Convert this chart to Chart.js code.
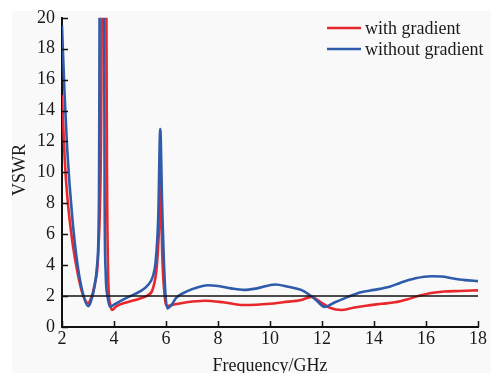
<!DOCTYPE html>
<html><head><meta charset="utf-8">
<script src="https://cdn.jsdelivr.net/npm/chart.js@4"></script>
<style>html,body{margin:0;padding:0;background:#fff;}#wrap{position:relative;width:491px;height:373px;}</style>
</head><body><div id="wrap"><canvas id="c" width="491" height="373"></canvas></div>
<script>
const withFreq = [2.0,2.1,2.2,2.4,2.6,2.8,3.0,3.1,3.25,3.4,3.5,3.57,3.68,3.73,3.78,3.85,3.92,4.1,4.5,5.0,5.3,5.5,5.65,5.75,5.8,5.85,5.95,6.05,6.3,6.8,7.5,8.2,9.0,10.0,10.5,11.2,11.6,11.9,12.3,12.75,13.2,13.7,14.3,14.8,15.3,15.7,16.2,16.7,17.3,18.0];
const withVSWR = [15,11,8.5,5.5,3.5,2.1,1.55,1.8,2.7,5,12,30,30,10,3,1.5,1.1,1.35,1.6,1.85,2.05,2.5,4,7,9.5,5,2,1.35,1.45,1.6,1.7,1.6,1.42,1.5,1.6,1.75,1.95,1.65,1.25,1.1,1.25,1.38,1.5,1.6,1.8,2.0,2.2,2.3,2.33,2.37];
const withoutFreq = [2.0,2.1,2.2,2.4,2.6,2.8,3.0,3.1,3.25,3.35,3.42,3.47,3.6,3.64,3.68,3.75,3.85,4.0,4.5,5.0,5.3,5.5,5.6,5.7,5.78,5.85,5.95,6.05,6.2,6.4,6.8,7.2,7.6,8.0,8.5,9.0,9.5,10.2,10.7,11.2,11.5,11.8,12.1,12.5,13.0,13.5,14.0,14.6,15.0,15.6,16.2,16.6,17.0,17.5,18.0];
const withoutVSWR = [19.5,15,11.5,7,4,2.2,1.35,1.6,2.6,4,8,30,30,8,3.5,2,1.3,1.45,1.9,2.3,2.7,3.3,4.2,7,12.8,8,3,1.2,1.4,1.9,2.3,2.55,2.7,2.65,2.5,2.4,2.5,2.75,2.6,2.4,2.1,1.7,1.3,1.6,1.95,2.25,2.4,2.6,2.85,3.15,3.28,3.27,3.15,3.03,2.97];
const refFreq = [2,18];
const refVSWR = [2,2];
const xTicks = [2,4,6,8,10,12,14,16,18];
const yTicks = [0,2,4,6,8,10,12,14,16,18,20];
const seriesNames = ['with gradient','without gradient'];
const seriesColors = ['#e8282d','#2f5caa'];
const xTitle = 'Frequency/GHz';
const yTitle = 'VSWR';

const FONT = '"Liberation Serif", "Times New Roman", serif';
const TEXT = '#1a1a1a';
const toPts = (xs, ys) => xs.map((x,i)=>({x:x,y:ys[i]}));

const bgPlugin = {
  id:'bg',
  beforeDraw(chart){
    const ctx = chart.ctx;
    ctx.save();
    ctx.fillStyle = '#ffffff';
    ctx.fillRect(0,0,chart.width,chart.height);
    ctx.fillStyle = '#f9f9f9';
    ctx.fillRect(12,11,chart.width-12,chart.height-11);
    ctx.restore();
  }
};
const decoPlugin = {
  id:'deco',
  afterDraw(chart){
    const ctx = chart.ctx, xs = chart.scales.x, ys = chart.scales.y, a = chart.chartArea;
    ctx.save();
    ctx.strokeStyle = '#111';
    ctx.lineWidth = 1.5;
    ctx.beginPath();
    xTicks.forEach(v=>{ const p = Math.round(xs.getPixelForValue(v))+0.5; ctx.moveTo(p,a.bottom); ctx.lineTo(p,a.bottom-6); });
    yTicks.forEach(v=>{ const p = Math.round(ys.getPixelForValue(v))+0.5; ctx.moveTo(a.left,p); ctx.lineTo(a.left+6,p); });
    ctx.stroke();
    ctx.font = '18px ' + FONT;
    ctx.fillStyle = TEXT;
    // axis titles
    ctx.textAlign = 'center';
    ctx.textBaseline = 'alphabetic';
    ctx.fillText(xTitle, (a.left+a.right)/2, 371);
    ctx.save();
    ctx.translate(25, 170);
    ctx.rotate(-Math.PI/2);
    ctx.fillText(yTitle, 0, 0);
    ctx.restore();
    // legend
    ctx.textBaseline = 'middle';
    ctx.textAlign = 'left';
    const lx = 327, ly = [28, 49];
    seriesNames.forEach((n,i)=>{
      ctx.strokeStyle = seriesColors[i];
      ctx.lineWidth = 2.5;
      ctx.beginPath(); ctx.moveTo(lx, ly[i]); ctx.lineTo(lx+34, ly[i]); ctx.stroke();
      ctx.fillStyle = TEXT;
      ctx.fillText(n, lx+38, ly[i]+1);
    });
    ctx.restore();
  }
};

new Chart(document.getElementById('c'), {
  type:'line',
  data:{ datasets:[
    {label:'ref', data:toPts(refFreq,refVSWR), borderColor:'#111', borderWidth:1.5, pointRadius:0, tension:0},
    {label:seriesNames[1], data:toPts(withoutFreq,withoutVSWR), borderColor:seriesColors[1], borderWidth:2.6, pointRadius:0, cubicInterpolationMode:'monotone'},
    {label:seriesNames[0], data:toPts(withFreq,withVSWR), borderColor:seriesColors[0], borderWidth:2.6, pointRadius:0, cubicInterpolationMode:'monotone'}
  ]},
  plugins:[bgPlugin, decoPlugin],
  options:{
    responsive:false, animation:false, devicePixelRatio:1,
    layout:{padding:{top:17,right:13,left:0,bottom:0}},
    plugins:{legend:{display:false}, tooltip:{enabled:false}},
    scales:{
      x:{type:'linear', min:2, max:18,
        afterBuildTicks(s){ s.ticks = xTicks.map(v=>({value:v})); },
        afterFit(s){ s.height = 46; },
        grid:{display:false, drawTicks:false},
        border:{display:true, color:'#111', width:2},
        ticks:{font:{family:FONT,size:18}, color:TEXT, padding:1, maxRotation:0}
      },
      y:{type:'linear', min:0, max:20,
        afterBuildTicks(s){ s.ticks = yTicks.map(v=>({value:v})); },
        afterFit(s){ s.width = 62; },
        grid:{display:false, drawTicks:false},
        border:{display:true, color:'#111', width:2},
        ticks:{font:{family:FONT,size:18}, color:TEXT, padding:7}
      }
    }
  }
});
</script></body></html>
